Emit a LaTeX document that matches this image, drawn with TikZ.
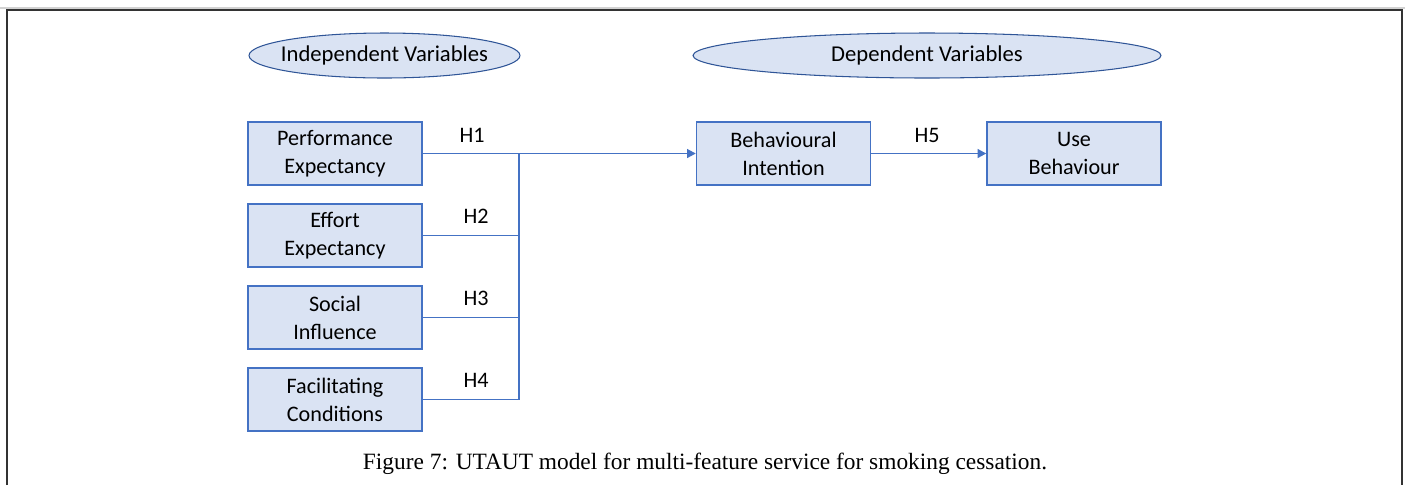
\documentclass[tikz,border=0pt]{standalone}
\usepackage{fontspec}
\setmainfont{Carlito}
\newfontfamily\captionfont{Liberation Serif}
\usetikzlibrary{shapes.geometric,arrows.meta}
\definecolor{boxfill}{HTML}{DAE3F3}
\definecolor{boxline}{HTML}{4472C4}
\definecolor{ovalline}{HTML}{2F5597}
\begin{document}
\begin{tikzpicture}[x=0.02cm,y=-0.02cm,
  varbox/.style={draw=boxline,fill=boxfill,line width=0.8pt,minimum width=3.48cm,
    minimum height=1.26cm,inner sep=0pt,align=center,font=\fontsize{12.6}{16}\selectfont},
  varoval/.style={ellipse,draw=ovalline,fill=boxfill,line width=0.6pt,minimum height=0.9cm,
    inner sep=0pt,font=\fontsize{12.9}{16}\selectfont},
  link/.style={draw=boxline,line width=1.1pt},
  hlabel/.style={font=\fontsize{12.6}{16}\selectfont}]
\useasboundingbox (0,0) rectangle (1405,485);
\draw[gray!35,line width=0.6pt] (0,8) -- (1405,8);
\draw[black!80,line width=0.7pt] (7,485) -- (7,10) -- (1402,10) -- (1402,485);
% headings
\node[varoval,minimum width=5.42cm,inner xsep=-0.18cm] (indep) at (384.5,55.5) {Independent Variables};
\node[varoval,minimum width=9.36cm] (dep) at (927,55.5) {Dependent Variables};
% boxes
\node[varbox] (pe) at (335,153.5) {Performance\\Expectancy};
\node[varbox] (ee) at (335,235.5) {Effort\\Expectancy};
\node[varbox] (si) at (335,317.5) {Social\\Influence};
\node[varbox] (fc) at (335,399.5) {Facilitating\\Conditions};
\node[varbox] (bi) at (783.5,153.5) {Behavioural\\Intention};
\node[varbox] (ub) at (1074,153.5) {Use\\Behaviour};
% bus
\coordinate (bustop) at (519,153.5);
\coordinate (busbot) at (519,399.5);
\draw[link] (bustop) -- (busbot);
\draw[link] (ee.east) -- (ee.east -| bustop);
\draw[link] (si.east) -- (si.east -| bustop);
\draw[link] (fc.east) -- (fc.east -| bustop);
\draw[link,-{Triangle[length=5pt,width=5pt]}] (pe.east) -- (bi.west);
\draw[link,-{Triangle[length=5pt,width=5pt]}] (bi.east) -- (ub.west);
% labels
\node[hlabel] (h1) at (472,135) {H1};
\node[hlabel] (h2) at (476,216) {H2};
\node[hlabel] (h3) at (476,298) {H3};
\node[hlabel] (h4) at (476,380) {H4};
\node[hlabel] (h5) at (927,135) {H5};
\node[font=\captionfont\fontsize{13.3}{15}\selectfont] (cap) at (705,464)
  {Figure 7: UTAUT model for multi-feature service for smoking cessation.};
\end{tikzpicture}
\end{document}
